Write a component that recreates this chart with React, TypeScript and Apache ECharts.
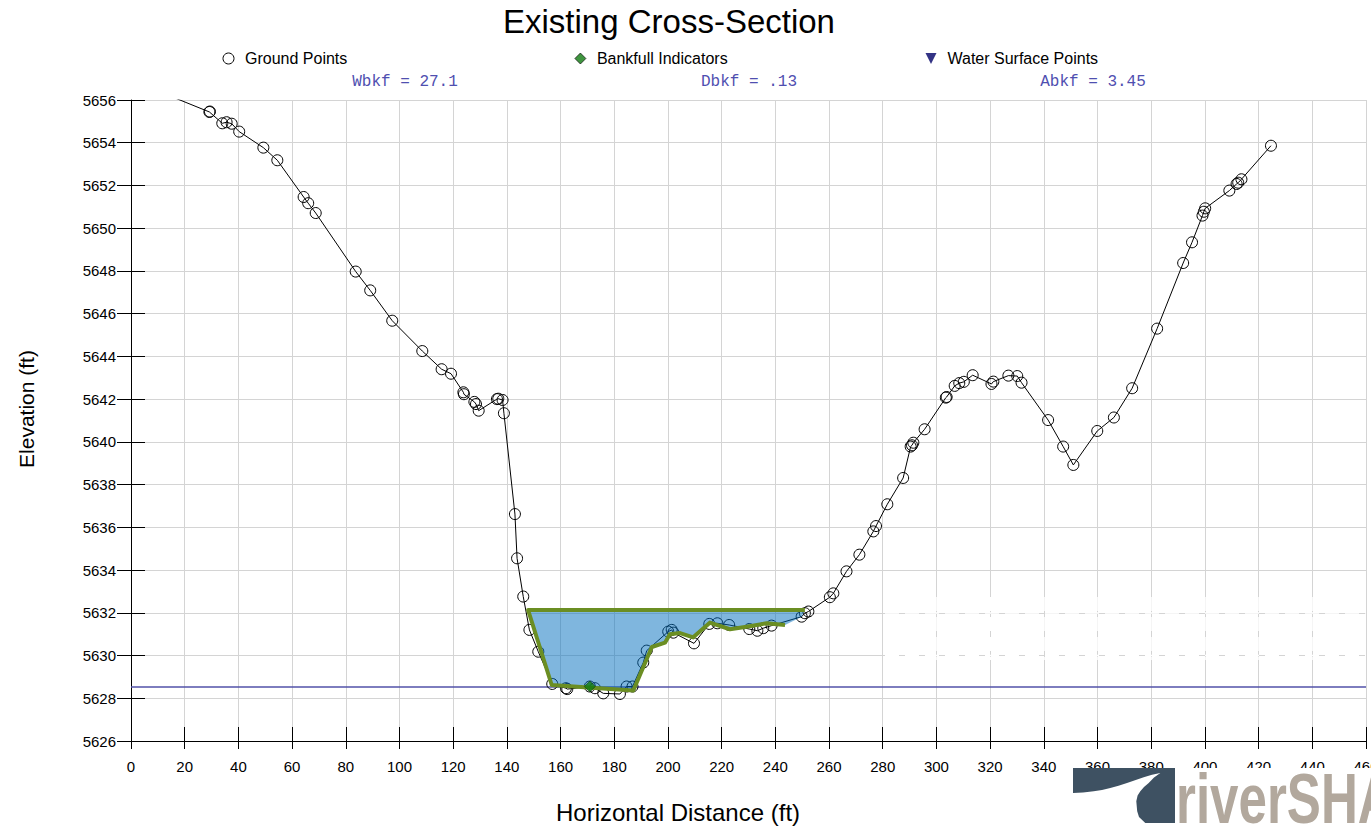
import React, { useEffect, useRef } from "react";
import * as echarts from "echarts";

const groundDistance = [
  0, 29.2, 29.4, 34.0, 35.6, 37.5, 40.3, 49.3, 54.5, 64.3, 66.0, 68.8, 83.7, 89.1, 97.3,
  108.5, 115.7, 119.2, 123.8, 124.0, 127.9, 128.5, 129.5, 136.3, 136.8, 138.4, 138.9,
  143.0, 143.8, 146.1, 148.4, 151.7, 156.9, 162.0, 162.5, 170.9, 172.8, 175.9, 182.1,
  184.6, 186.8, 190.8, 192.1, 200.1, 201.4, 202.0, 209.7, 215.4, 218.4, 222.8, 230.3,
  233.3, 235.5, 238.6, 249.8, 251.0, 252.3, 260.3, 261.6, 266.5, 271.3, 276.5, 277.5,
  281.7, 287.6, 290.4, 290.9, 291.4, 295.6, 303.5, 303.8, 306.8, 308.5, 310.2, 313.5,
  320.5, 321.2, 326.8, 330.1, 331.7, 341.6, 347.2, 351.0, 359.9, 366.1, 372.9, 382.2,
  391.9, 395.2, 399.1, 399.6, 400.1, 409.1, 411.8, 412.4, 413.6, 424.6,
];
const groundElevation = [
  5656.93, 5655.44, 5655.46, 5654.91, 5654.96, 5654.89, 5654.52, 5653.77, 5653.18, 5651.46,
  5651.17, 5650.71, 5647.97, 5647.09, 5645.67, 5644.25, 5643.4, 5643.19, 5642.32, 5642.23,
  5641.87, 5641.77, 5641.46, 5642.0, 5642.02, 5641.96, 5641.34, 5636.62, 5634.55, 5632.76,
  5631.2, 5630.18, 5628.67, 5628.47, 5628.43, 5628.55, 5628.47, 5628.23, 5628.2, 5628.55,
  5628.55, 5629.67, 5630.23, 5631.12, 5631.2, 5631.07, 5630.57, 5631.48, 5631.51, 5631.43,
  5631.24, 5631.16, 5631.28, 5631.4, 5631.82, 5631.98, 5632.06, 5632.73, 5632.91, 5633.94,
  5634.72, 5635.81, 5636.06, 5637.08, 5638.31, 5639.78, 5639.84, 5639.96, 5640.59, 5642.07,
  5642.1, 5642.62, 5642.75, 5642.81, 5643.12, 5642.71, 5642.82, 5643.1, 5643.08, 5642.77,
  5641.02, 5639.78, 5638.92, 5640.51, 5641.14, 5642.51, 5645.3, 5648.37, 5649.34, 5650.59,
  5650.77, 5650.93, 5651.76, 5652.07, 5652.13, 5652.29, 5653.86,
];

const bankfullDistance = [
  251.0, 147.9, 156.7, 170.3, 187.1, 194.0, 198.9, 200.7, 204.5, 209.4, 215.6, 223.1,
  229.3, 236.8, 243.6,
];
const bankfullProfile = [
  5632.13, 5632.13, 5628.62, 5628.5, 5628.36, 5630.4, 5630.6, 5631.0, 5631.05, 5630.85,
  5631.54, 5631.23, 5631.35, 5631.51, 5631.43,
];
const fillDistance = [
  147.9, 156.7, 170.3, 187.1, 194.0, 198.9, 200.7, 204.5, 209.4, 215.6, 223.1, 229.3,
  236.8, 243.6, 249.8, 251.0,
];
const fillElevation = [
  5632.13, 5628.62, 5628.5, 5628.36, 5630.4, 5630.6, 5631.0, 5631.05, 5630.85, 5631.54,
  5631.23, 5631.35, 5631.51, 5631.43, 5631.82, 5632.13,
];
const bankfullIndicators = [[170.9, 5628.55]];
const waterSurfacePoints: number[][] = [];
const waterLevel = 5628.53;
const waterLineDistance = [0, 460];

const annotations = ["Wbkf = 27.1", "Dbkf = .13", "Abkf = 3.45"];
const legendNames = ["Ground Points", "Bankfull Indicators", "Water Surface Points"];

const FONT = "'Liberation Sans', Arial, sans-serif";
const MONO = "'Liberation Mono', 'Courier New', monospace";

export default function App() {
  const ref = useRef<HTMLDivElement>(null);

  useEffect(() => {
    document.body.style.margin = "0";
    document.body.style.overflow = "hidden";
    if (!ref.current) return;
    const chart = echarts.init(ref.current, null, { renderer: "svg" });

    const gridColor = "#d4d4d4";
    const baseX = {
      type: "value",
      min: 0,
      max: 460,
      interval: 20,
      position: "bottom",
    };
    const baseY = {
      type: "value",
      min: 5626,
      max: 5656,
      interval: 2,
      position: "left",
    };

    const whiteDash = { stroke: "#ffffff", lineWidth: 1.5, lineDash: [14, 6] };
    const artifactLines: any[] = [
      ...[613, 655.4].map((y) => ({
        type: "line",
        z: 5,
        shape: { x1: 885, y1: y, x2: 1366, y2: y },
        style: whiteDash,
      })),
      ...[937, 990.5, 1044, 1098, 1152, 1205, 1259, 1313].map((x) => ({
        type: "line",
        z: 5,
        shape: { x1: x, y1: 597, x2: x, y2: 660 },
        style: whiteDash,
      })),
    ];

    const option: any = {
      animation: false,
      backgroundColor: "#ffffff",
      textStyle: { fontFamily: FONT },
      title: {
        text: "Existing Cross-Section",
        left: 503,
        top: 5,
        padding: 0,
        textStyle: { fontFamily: FONT, fontSize: 33, fontWeight: "normal", color: "#000" },
      },
      legend: [
        { name: legendNames[0], left: 222.5, icon: "circle", style: { color: "#fff", borderColor: "#000", borderWidth: 1 } },
        { name: legendNames[1], left: 574.5, icon: "diamond", style: { color: "#0f7a0f", borderColor: "#000", borderWidth: 0.8 } },
        { name: legendNames[2], left: 925.5, icon: "path://M0,0 L10,0 L5,10 Z", style: { color: "#000066", borderColor: "#000066", borderWidth: 0 } },
      ].map((l) => ({
        show: true,
        left: l.left,
        top: 50.5,
        padding: 0,
        itemWidth: 11,
        itemHeight: 11,
        selectedMode: false,
        data: [{ name: l.name, icon: l.icon, itemStyle: l.style }],
        textStyle: { fontFamily: FONT, fontSize: 16, color: "#000", padding: [0, 0, 0, 6] },
      })),
      grid: {
        left: 131,
        right: 5,
        top: 100,
        bottom: 89,
        containLabel: false,
        outerBoundsMode: "none",
      },
      xAxis: [
        {
          ...baseX,
          axisLine: { show: true, onZero: false, lineStyle: { color: "#000", width: 1 } },
          axisTick: { show: true, inside: false, length: 8, lineStyle: { color: "#000" } },
          axisLabel: {
            show: true,
            margin: 18,
            fontFamily: FONT,
            fontSize: 15,
            color: "#000",
            showMaxLabel: true,
            showMinLabel: true,
            hideOverlap: false,
            formatter: (v: number) => String(v),
          },
          splitLine: { show: true, lineStyle: { color: gridColor, width: 1 } },
        },
        {
          ...baseX,
          axisLine: { show: false },
          axisTick: { show: true, inside: true, length: 14, lineStyle: { color: "#000" } },
          axisLabel: { show: false },
          splitLine: { show: false },
        },
      ],
      yAxis: [
        {
          ...baseY,
          axisLine: { show: true, onZero: false, lineStyle: { color: "#000", width: 1 } },
          axisTick: { show: true, inside: false, length: 14, lineStyle: { color: "#000" } },
          axisLabel: {
            show: true,
            margin: 15,
            fontFamily: FONT,
            fontSize: 15,
            color: "#000",
            showMaxLabel: true,
            showMinLabel: true,
            formatter: (v: number) => String(v),
          },
          splitLine: { show: true, lineStyle: { color: gridColor, width: 1 } },
        },
        {
          ...baseY,
          axisLine: { show: false },
          axisTick: { show: true, inside: true, length: 14, lineStyle: { color: "#000" } },
          axisLabel: { show: false },
          splitLine: { show: false },
        },
      ],
      series: [
        {
          name: "Water Level",
          type: "line",
          z: 1,
          symbol: "none",
          silent: true,
          lineStyle: { color: "#5252a8", width: 1.5 },
          data: waterLineDistance.map((x) => [x, waterLevel]),
        },
        {
          name: legendNames[0],
          type: "line",
          z: 2,
          symbol: "circle",
          symbolSize: 11,
          showAllSymbol: true,
          clip: true,
          lineStyle: { color: "#000", width: 1 },
          itemStyle: { color: "rgba(0,0,0,0)", borderColor: "#000", borderWidth: 1 },
          data: groundDistance.map((x, i) => [x, groundElevation[i]]),
        },
        {
          name: "Bankfull Area",
          type: "custom",
          z: 3,
          silent: true,
          data: [[fillDistance[0], fillElevation[0]]],
          renderItem: (params: any, api: any) => {
            if (params.dataIndex !== 0) return null;
            const pts = fillDistance.map((x, i) => api.coord([x, fillElevation[i]]));
            return {
              type: "polygon",
              shape: { points: pts },
              style: { fill: "rgba(0,110,190,0.5)", stroke: "none" },
            };
          },
        },
        {
          name: "Bankfull Line",
          type: "line",
          z: 4,
          symbol: "none",
          silent: true,
          lineStyle: { color: "#6b8e23", width: 4, join: "round" },
          data: bankfullDistance.map((x, i) => [x, bankfullProfile[i]]),
        },
        {
          name: legendNames[1],
          type: "scatter",
          z: 5,
          symbol: "diamond",
          symbolSize: [11, 11],
          itemStyle: { color: "#0f7a0f", borderColor: "#0b3d0b", borderWidth: 0.8 },
          data: bankfullIndicators,
        },
        {
          name: legendNames[2],
          type: "scatter",
          z: 5,
          symbol: "path://M0,0 L10,0 L5,10 Z",
          symbolSize: 11,
          itemStyle: { color: "#000066" },
          data: waterSurfacePoints,
        },
      ],
      graphic: [
        ...artifactLines,
        ...annotations.map((t, i) => ({
          type: "text",
          x: [405, 749, 1093][i],
          y: 82,
          z: 10,
          style: {
            text: t,
            fontFamily: MONO,
            fontSize: 16,
            fill: "#4f4fb0",
            align: "center",
            verticalAlign: "middle",
          },
        })),
        {
          type: "text",
          x: 26,
          y: 409,
          rotation: Math.PI / 2,
          z: 10,
          style: {
            text: "Elevation (ft)",
            fontFamily: FONT,
            fontSize: 21,
            fill: "#000",
            align: "center",
            verticalAlign: "middle",
          },
        },
        {
          type: "text",
          x: 678,
          y: 812,
          z: 10,
          style: {
            text: "Horizontal Distance (ft)",
            fontFamily: FONT,
            fontSize: 24,
            fill: "#000",
            align: "center",
            verticalAlign: "middle",
          },
        },
        {
          type: "group",
          z: 100,
          children: [
            {
              type: "rect",
              z: 100,
              shape: { x: 1073, y: 768, width: 298, height: 62 },
              style: { fill: "#ffffff" },
            },
            {
              type: "polygon",
              z: 101,
              shape: {
                points: [
                  [0, 0], [102, 0], [102, 55], [72.3, 55], [66, 49], [64.2, 43.3], [63.3, 33.3],
                  [64.6, 27.5], [67.3, 23.3], [71, 19], [75.7, 15], [81, 9.5], [87.3, 5],
                  [79, 6.8], [70.7, 9.3], [62, 12.3], [54, 15], [45.5, 17.8], [37.3, 20],
                  [29, 22], [20.7, 23.3], [10, 24.4], [0, 25],
                ].map((p) => [1073 + p[0], 768 + p[1]]),
              },
              style: { fill: "#3e5162" },
            },
            {
              type: "text",
              z: 101,
              x: 1176,
              y: 834,
              scaleX: 0.72,
              style: {
                text: "riverSHA",
                fontFamily: FONT,
                fontWeight: "bold",
                fontSize: 71,
                fill: "#b2a89d",
                align: "left",
                verticalAlign: "bottom",
              },
            },
          ],
        },
      ],
    };

    chart.setOption(option);
    return () => chart.dispose();
  }, []);

  return <div ref={ref} style={{ width: 1371, height: 830, overflow: "hidden" }} />;
}
